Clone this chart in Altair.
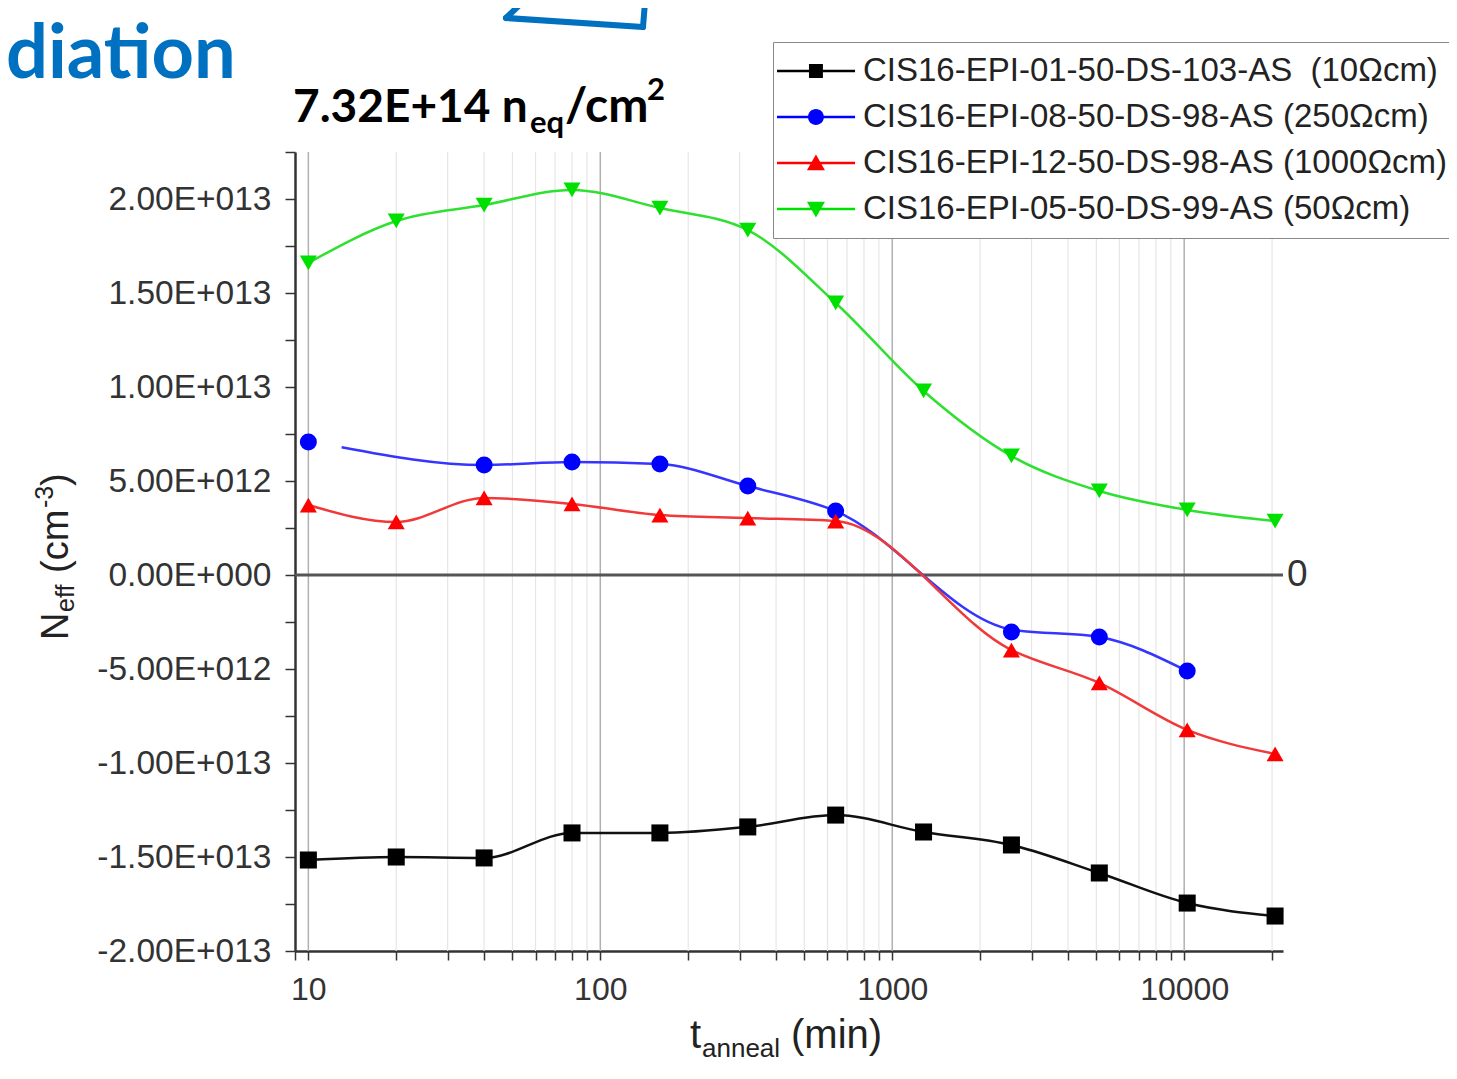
import json
import altair as alt
import pandas as pd

# ---------------- data (Neff in units of 1E+13 cm^-3) ----------------
series = [
    "CIS16-EPI-01-50-DS-103-AS \u00a0(10\u03a9cm)",
    "CIS16-EPI-08-50-DS-98-AS (250\u03a9cm)",
    "CIS16-EPI-12-50-DS-98-AS (1000\u03a9cm)",
    "CIS16-EPI-05-50-DS-99-AS (50\u03a9cm)",
]

t_black = [10, 20, 40, 80, 160, 320, 640, 1280, 2560, 5120, 10240, 20480]
n_black = [-1.516, -1.500, -1.505, -1.372, -1.372, -1.340, -1.277, -1.367, -1.436, -1.585, -1.745, -1.814]

t_blue = [10, 40, 80, 160, 320, 640, 2560, 5120, 10240]
n_blue = [0.707, 0.585, 0.601, 0.590, 0.473, 0.340, -0.303, -0.330, -0.511]
# fitted curve of the blue series starts a little right of its first point
t_blue_fit = [13, 40, 80, 160, 320, 640, 2560, 5120, 10240]
n_blue_fit = [0.680, 0.585, 0.601, 0.590, 0.473, 0.340, -0.290, -0.330, -0.511]

t_red = [10, 20, 40, 80, 160, 320, 640, 2560, 5120, 10240, 20480]
n_red = [0.372, 0.282, 0.410, 0.378, 0.319, 0.303, 0.287, -0.399, -0.574, -0.824, -0.952]

t_green = [10, 20, 40, 80, 160, 320, 640, 1280, 2560, 5120, 10240, 20480]
n_green = [1.660, 1.883, 1.968, 2.048, 1.952, 1.835, 1.447, 0.979, 0.633, 0.447, 0.346, 0.287]

x_tick_values = [9, 10, 20, 30, 40, 50, 60, 70, 80, 90,
                 100, 200, 300, 400, 500, 600, 700, 800, 900,
                 1000, 2000, 3000, 4000, 5000, 6000, 7000, 8000, 9000,
                 10000, 20000]
x_label_values = [10, 100, 1000, 10000]
x_label_texts = ["10", "100", "1000", "10000"]
major_grid = [10, 100, 1000, 10000]
minor_grid = [20, 30, 40, 50, 60, 70, 80, 90,
              200, 300, 400, 500, 600, 700, 800, 900,
              2000, 3000, 4000, 5000, 6000, 7000, 8000, 9000, 20000]

y_tick_values = [-2.0, -1.75, -1.5, -1.25, -1.0, -0.75, -0.5, -0.25, 0.0,
                 0.25, 0.5, 0.75, 1.0, 1.25, 1.5, 1.75, 2.0, 2.25]
y_label_values = [-2.0, -1.5, -1.0, -0.5, 0.0, 0.5, 1.0, 1.5, 2.0]
y_label_texts = ["-2.00E+013", "-1.50E+013", "-1.00E+013", "-5.00E+012", "0.00E+000",
                 "5.00E+012", "1.00E+013", "1.50E+013", "2.00E+013"]

marker_colors = ["#000000", "#0000ff", "#ff0000", "#00e000"]
line_colors = ["#111111", "#3535ff", "#f03a3a", "#30e030"]
shapes = ["square", "circle", "triangle-up", "triangle-down"]

# legend symbols: a line segment plus the marker (custom paths)
_ln = "M-1.47,-0.07H3.12V0.07H-1.47Z "
legend_paths = [
    _ln + "M0.41,-0.41H1.23V0.41H0.41Z",
    _ln + "M0.35,0A0.47,0.47 0 1,1 1.29,0A0.47,0.47 0 1,1 0.35,0Z",
    _ln + "M0.82,-0.5L1.35,0.42H0.29Z",
    _ln + "M0.29,-0.42H1.35L0.82,0.5Z",
]

# ---------------- tables ----------------
pt_rows, ln_rows = [], []
for s, ts, ns in zip(series, [t_black, t_blue, t_red, t_green], [n_black, n_blue, n_red, n_green]):
    for t, n in zip(ts, ns):
        pt_rows.append({"series": s, "t": t, "n": n})
for s, ts, ns in zip(series, [t_black, t_blue_fit, t_red, t_green], [n_black, n_blue_fit, n_red, n_green]):
    for t, n in zip(ts, ns):
        ln_rows.append({"series": s, "t": t, "n": n})
pts = pd.DataFrame(pt_rows)
lns = pd.DataFrame(ln_rows)

# ---------------- scales / axes ----------------
FONT = "Liberation Sans"
x_scale = alt.Scale(type="log", domain=[9, 21800], nice=False)
y_scale = alt.Scale(domain=[-2.0, 2.25], nice=False, zero=False)

xv, xt = json.dumps(x_label_values), json.dumps(x_label_texts)
yv, yt = json.dumps(y_label_values), json.dumps(y_label_texts)

x_axis = alt.Axis(values=x_tick_values, title=None, grid=False,
                  labelExpr=f"indexof({xv}, datum.value) >= 0 ? {xt}[indexof({xv}, datum.value)] : ''",
                  domainColor="#333333", domainWidth=2.5, tickColor="#333333", tickWidth=1.5,
                  tickSize=9, labelFont=FONT, labelFontSize=32, labelColor="#333333",
                  labelPadding=14, labelOverlap=False, labelFlush=False)
y_axis = alt.Axis(values=y_tick_values, title=None, grid=False,
                  labelExpr=f"indexof({yv}, datum.value) >= 0 ? {yt}[indexof({yv}, datum.value)] : ''",
                  domainColor="#333333", domainWidth=2.5, tickColor="#333333", tickWidth=1.5,
                  tickSize=10, labelFont=FONT, labelFontSize=33.5, labelColor="#333333",
                  labelPadding=14, labelOverlap=False, labelFlush=False)

X = alt.X("t:Q", scale=x_scale, axis=x_axis)
Y = alt.Y("n:Q", scale=y_scale, axis=y_axis)

minor = alt.Chart(pd.DataFrame({"t": minor_grid})).mark_rule(color="#e6e6e6", strokeWidth=1.2).encode(x=X)
major = alt.Chart(pd.DataFrame({"t": major_grid})).mark_rule(color="#b0b0b0", strokeWidth=1.5).encode(x=X)
zero = alt.Chart(pd.DataFrame({"n": [0.0]})).mark_rule(color="#555555", strokeWidth=3).encode(y=Y)

lines = alt.Chart(lns).mark_line(interpolate="monotone", strokeWidth=2.5).encode(
    x=X, y=Y, order="t:Q",
    color=alt.Color("series:N", scale=alt.Scale(domain=series, range=line_colors), legend=None),
)
points = alt.Chart(pts).mark_point(filled=True, opacity=1, size=290).encode(
    x=X, y=Y,
    color=alt.Color("series:N", scale=alt.Scale(domain=series, range=marker_colors), legend=None),
    shape=alt.Shape("series:N", scale=alt.Scale(domain=series, range=shapes), legend=None),
)

leg_kwargs = dict(orient="none", legendX=478, legendY=-110, title=None, symbolSize=1156,
                  labelFont=FONT, labelFontSize=33, labelColor="#222222", labelLimit=2000,
                  labelOffset=44, rowPadding=12, padding=12, strokeColor="#888888",
                  fillColor="white", symbolStrokeWidth=0, symbolOpacity=1)
legend_layer = alt.Chart(pts).mark_point(filled=True, opacity=0).encode(
    x=X, y=Y,
    color=alt.Color("series:N", scale=alt.Scale(domain=series, range=marker_colors),
                    legend=alt.Legend(**leg_kwargs)),
    shape=alt.Shape("series:N", scale=alt.Scale(domain=series, range=legend_paths),
                    legend=alt.Legend(**leg_kwargs)),
)

zero_label = alt.Chart(pd.DataFrame({"n": [0.0]})).mark_text(
    text="0", font=FONT, fontSize=37, color="#333333", align="left", baseline="middle"
).encode(x=alt.value(992), y=Y)

_one = pd.DataFrame({"a": [0]})


def txt(text, x, y, size, font=FONT, weight="normal", color="#222222", angle=0):
    return alt.Chart(_one).mark_text(text=text, font=font, fontSize=size, fontWeight=weight,
                                     color=color, angle=angle, align="left",
                                     baseline="alphabetic").encode(x=alt.value(x), y=alt.value(y))


BOLD = "Lato"
annotations = [
    txt("diation", -289, -74, 74, font=BOLD, weight="bold", color="#0070c0"),
    txt("7.32E+14 n", -2, -30, 46, font=BOLD, weight="bold", color="#000000"),
    txt("eq", 235, -19, 31, font=BOLD, weight="bold", color="#000000"),
    txt("/cm", 270, -30, 48, font=BOLD, weight="bold", color="#000000"),
    txt("2", 352, -52, 31, font=BOLD, weight="bold", color="#000000"),
    # y-axis title  N_eff (cm^-3)
    txt("N", -227, 488, 38, angle=270),
    txt("eff", -221, 460, 25, angle=270),
    txt("(cm", -227, 421, 38, angle=270),
    txt("-3", -242, 356, 25, angle=270),
    txt(")", -227, 334, 38, angle=270),
    # x-axis title  t_anneal (min)
    txt("t", 395, 896, 40),
    txt("anneal", 407, 905, 26),
    txt("(min)", 496, 896, 40),
]

_blue = "#0070c0"
deco = [
    alt.Chart(_one).mark_rule(color=_blue, strokeWidth=6, strokeCap="round").encode(
        x=alt.value(211), y=alt.value(-134), x2=alt.value(240), y2=alt.value(-162)),
    alt.Chart(_one).mark_rule(color=_blue, strokeWidth=6, strokeCap="round").encode(
        x=alt.value(211), y=alt.value(-134), x2=alt.value(348), y2=alt.value(-125)),
    alt.Chart(_one).mark_rule(color=_blue, strokeWidth=6, strokeCap="round").encode(
        x=alt.value(348), y=alt.value(-125), x2=alt.value(351), y2=alt.value(-162)),
]

chart = alt.layer(
    minor, major, zero, lines, points, legend_layer, zero_label, *annotations, *deco
).resolve_scale(
    color="independent", shape="independent"
).properties(
    width=988, height=799,
    padding={"left": 287, "top": 144, "right": 166, "bottom": 112},
    autosize=alt.AutoSizeParams(type="none"),
).configure_view(stroke=None)

chart.save("out.html", embed_options={"renderer": "svg", "actions": False})
